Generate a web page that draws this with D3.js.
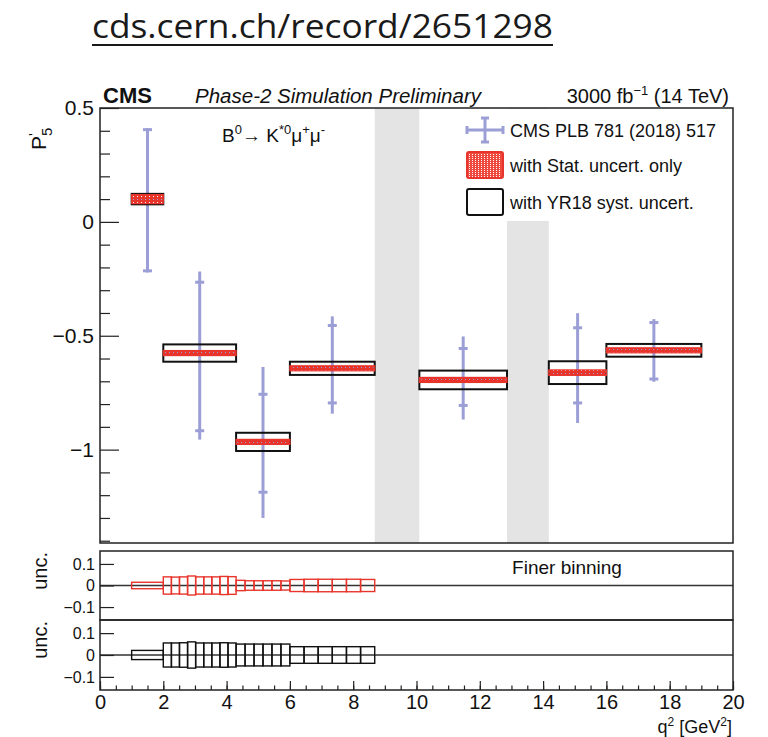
<!DOCTYPE html>
<html><head><meta charset="utf-8">
<script src="https://cdn.jsdelivr.net/npm/d3@7"></script>
<style>
body{margin:0;background:#fff}
svg{display:block}
text{font-family:"Liberation Sans",Arial,Helvetica,sans-serif;fill:#111}
</style>
</head><body>
<svg id="chart" width="768" height="737"></svg>
<script>
// q2 bins of the P5' measurement [GeV^2]
const binLo = [1, 2, 4.3, 6, 10.09, 14.18, 16];
const binHi = [2, 4.3, 6, 8.68, 12.86, 16, 19];
// Projected P5' central values with half-widths of the uncertainty boxes
const p5Central = [0.100, -0.576, -0.966, -0.643, -0.694, -0.662, -0.564];
const statOnly  = [0.020, 0.011, 0.011, 0.011, 0.011, 0.012, 0.011];
const withSyst  = [0.023, 0.038, 0.040, 0.029, 0.041, 0.050, 0.028];
// CMS PLB 781 (2018) 517: ends of the stat-only (caps) and total error bars
const cmsStatHi = [0.405, -0.265, -0.757, -0.455, -0.556, -0.465, -0.442];
const cmsStatLo = [-0.215, -0.917, -1.187, -0.795, -0.806, -0.795, -0.690];
const cmsTotHi  = [0.411, -0.218, -0.637, -0.415, -0.503, -0.401, -0.427];
const cmsTotLo  = [-0.222, -0.956, -1.300, -0.842, -0.868, -0.883, -0.702];
// Charmonium veto regions
const vetoLo = [8.68, 12.86];
const vetoHi = [10.09, 14.18];
// Finer binning: edges and uncertainties (stat only / with YR18 syst)
const fineEdges = [1, 2, 2.256, 2.511, 2.767, 3.022, 3.278, 3.533, 3.789, 4.044, 4.3,
                   4.583, 4.867, 5.15, 5.433, 5.717, 6, 6.447, 6.893, 7.34, 7.787, 8.233, 8.68];
const fineStat = [0.015, 0.040, 0.039, 0.040, 0.044, 0.040, 0.040, 0.040, 0.042, 0.041,
                  0.024, 0.022, 0.022, 0.022, 0.022, 0.021, 0.028, 0.029, 0.029, 0.029, 0.029, 0.028];
const fineSyst = [0.021, 0.055, 0.055, 0.056, 0.060, 0.055, 0.055, 0.055, 0.056, 0.055,
                  0.050, 0.050, 0.050, 0.050, 0.050, 0.050, 0.038, 0.038, 0.038, 0.038, 0.038, 0.038];
// Axis ticks
const xMajorTicks = [0, 2, 4, 6, 8, 10, 12, 14, 16, 18, 20];
const yMainMajor = [0.5, 0, -0.5, -1];
const uncTicks = [0.1, 0, -0.1];

const BLUE = "#9b9fd6", RED = "#e8352c", FRAME = "#222";
const svg = d3.select("#chart");
const fmt = d3.format("~g");

const x = d3.scaleLinear().domain([0, 20]).range([100, 733]);
const yMain = d3.scaleLinear().domain([-1.41, 0.5]).range([543, 108]);
const yU1 = d3.scaleLinear().domain([-0.16, 0.16]).range([620, 551]);
const yU2 = d3.scaleLinear().domain([-0.16, 0.16]).range([690, 620]);

// Red hatched fills for the stat-only boxes (holes let the layers below show)
const defs = svg.append("defs");
defs.append("pattern").attr("id", "statFill").attr("patternUnits", "userSpaceOnUse")
  .attr("width", 4).attr("height", 3)
  .append("path").attr("d", "M0,0h4v3h-4z M1,1h1v1h-1z")
  .attr("fill-rule", "evenodd").attr("fill", RED);
defs.append("pattern").attr("id", "statFillKey").attr("patternUnits", "userSpaceOnUse")
  .attr("width", 3).attr("height", 2)
  .append("path").attr("d", "M0,0h3v2h-3z M1,0h1v1h-1z")
  .attr("fill-rule", "evenodd").attr("fill", "#ee4a40");

// Title line above the chart
svg.append("text").attr("x", 92).attr("y", 38).attr("font-size", 33)
  .attr("textLength", 461).attr("lengthAdjust", "spacingAndGlyphs")
  .style("font-family", "'Open Sans','Noto Sans',sans-serif").style("fill", "#1a1a1a")
  .text("cds.cern.ch/record/2651298");
svg.append("line").attr("x1", 92).attr("x2", 553).attr("y1", 45).attr("y2", 45)
  .attr("stroke", "#1a1a1a").attr("stroke-width", 2);

// Header
svg.append("text").attr("x", 103).attr("y", 103).attr("font-size", 22)
  .attr("font-weight", "bold").text("CMS");
svg.append("text").attr("x", 195).attr("y", 103).attr("font-size", 20.5)
  .attr("font-style", "italic").text("Phase-2 Simulation Preliminary");
const lumi = svg.append("text").attr("x", 729).attr("y", 103).attr("font-size", 20)
  .attr("text-anchor", "end");
lumi.append("tspan").text("3000 fb");
lumi.append("tspan").attr("font-size", 13).attr("dy", -8).text("\u22121");
lumi.append("tspan").attr("dy", 8).text(" (14 TeV)");

// ---- Main panel ----
const main = svg.append("g");
main.selectAll("rect.veto").data(vetoLo).join("rect").attr("class", "veto")
  .attr("x", (d) => x(d)).attr("width", (d, i) => x(vetoHi[i]) - x(d))
  .attr("y", yMain(0.5)).attr("height", yMain(-1.41) - yMain(0.5))
  .attr("fill", "#e4e4e4");

const bins = binLo.map((lo, i) => ({
  lo, hi: binHi[i], c: p5Central[i], stat: statOnly[i], syst: withSyst[i],
  sHi: cmsStatHi[i], sLo: cmsStatLo[i], tHi: cmsTotHi[i], tLo: cmsTotLo[i]
}));

// CMS 2018 measurement error bars
const meas = main.append("g").attr("stroke", BLUE).attr("stroke-width", 3);
bins.forEach((b) => {
  const cx = x((b.lo + b.hi) / 2);
  meas.append("line").attr("x1", cx).attr("x2", cx).attr("y1", yMain(b.tHi)).attr("y2", yMain(b.tLo));
  meas.append("line").attr("x1", x(b.lo)).attr("x2", x(b.hi)).attr("y1", yMain(b.c)).attr("y2", yMain(b.c));
  [b.sHi, b.sLo].forEach((v) => {
    meas.append("line").attr("x1", cx - 4.5).attr("x2", cx + 4.5).attr("y1", yMain(v)).attr("y2", yMain(v));
  });
});

// Boxes with YR18 systematics
main.selectAll("rect.syst").data(bins).join("rect").attr("class", "syst")
  .attr("x", (d) => x(d.lo)).attr("width", (d) => x(d.hi) - x(d.lo))
  .attr("y", (d) => yMain(d.c + d.syst)).attr("height", (d) => yMain(d.c - d.syst) - yMain(d.c + d.syst))
  .attr("fill", "none").attr("stroke", "#111").attr("stroke-width", 2);

// Stat-only boxes
main.selectAll("rect.stat").data(bins).join("rect").attr("class", "stat")
  .attr("x", (d) => x(d.lo)).attr("width", (d) => x(d.hi) - x(d.lo))
  .attr("y", (d) => yMain(d.c + d.stat)).attr("height", (d) => yMain(d.c - d.stat) - yMain(d.c + d.stat))
  .attr("fill", "url(#statFill)").attr("stroke", RED).attr("stroke-width", 1.2);

// Main y axis
const yMinor = d3.range(-1.4, 0.55, 0.1).filter((v) => !yMainMajor.some((m) => Math.abs(m - v) < 1e-6));
main.append("g").attr("transform", "translate(100,0)")
  .call(d3.axisLeft(yMain).tickValues(yMinor).tickSizeInner(-10).tickSizeOuter(0).tickFormat(""))
  .call((g) => g.select(".domain").remove())
  .call((g) => g.selectAll("line").attr("stroke", FRAME).attr("stroke-width", 1.2));
main.append("g").attr("transform", "translate(100,0)")
  .call(d3.axisLeft(yMain).tickValues(yMainMajor).tickSizeInner(-19).tickSizeOuter(0).tickPadding(6).tickFormat(fmt))
  .call((g) => g.select(".domain").remove())
  .call((g) => g.selectAll("line").attr("stroke", FRAME).attr("stroke-width", 1.2))
  .call((g) => g.selectAll("text").attr("font-size", 21).attr("fill", "#111")
    .style("font-family", "'Liberation Sans',Arial,sans-serif"));

// y title P'5
const yt = svg.append("text").attr("transform", "translate(46,150) rotate(-90)").attr("font-size", 21);
yt.append("tspan").text("P");
yt.append("tspan").attr("font-size", 15).attr("dy", -7).attr("dx", 0).text("'");
yt.append("tspan").attr("font-size", 15).attr("dy", 13).attr("dx", -3).text("5");

// Decay label
const dk = svg.append("text").attr("x", 222).attr("y", 142).attr("font-size", 19);
dk.append("tspan").text("B");
dk.append("tspan").attr("font-size", 13).attr("dy", -8).text("0");
dk.append("tspan").attr("dy", 8).text("\u2192 K");
dk.append("tspan").attr("font-size", 13).attr("dy", -8).text("*0");
dk.append("tspan").attr("dy", 8).text("\u03bc");
dk.append("tspan").attr("font-size", 13).attr("dy", -8).text("+");
dk.append("tspan").attr("dy", 8).text("\u03bc");
dk.append("tspan").attr("font-size", 13).attr("dy", -8).text("-");

// Legend
const lg = svg.append("g");
lg.append("rect").attr("x", 440).attr("y", 109).attr("width", 292).attr("height", 112).attr("fill", "#fff");
const lgB = lg.append("g").attr("stroke", BLUE).attr("stroke-width", 3);
lgB.append("line").attr("x1", 467).attr("x2", 503).attr("y1", 130).attr("y2", 130);
lgB.append("line").attr("x1", 485).attr("x2", 485).attr("y1", 118).attr("y2", 142);
lgB.append("line").attr("x1", 481).attr("x2", 489).attr("y1", 118).attr("y2", 118);
lgB.append("line").attr("x1", 481).attr("x2", 489).attr("y1", 142).attr("y2", 142);
lgB.append("line").attr("x1", 467).attr("x2", 467).attr("y1", 126).attr("y2", 134);
lgB.append("line").attr("x1", 503).attr("x2", 503).attr("y1", 126).attr("y2", 134);
lg.append("rect").attr("x", 467).attr("y", 152).attr("width", 36).attr("height", 26).attr("rx", 2)
  .attr("fill", "url(#statFillKey)").attr("stroke", RED).attr("stroke-width", 2);
lg.append("rect").attr("x", 467).attr("y", 189).attr("width", 36).attr("height", 26).attr("rx", 2)
  .attr("fill", "#fff").attr("stroke", "#111").attr("stroke-width", 2);
const lgText = ["CMS PLB 781 (2018) 517", "with Stat. uncert. only", "with YR18 syst. uncert."];
const lgY = [137, 172, 209];
lg.selectAll("text").data(lgText).join("text").attr("x", 510).attr("y", (d, i) => lgY[i])
  .attr("font-size", 18).text((d) => d);

svg.append("rect").attr("x", 100).attr("y", 108).attr("width", 633).attr("height", 435)
  .attr("fill", "none").attr("stroke", FRAME).attr("stroke-width", 1.5);

// ---- Finer binning panels ----
const fine = fineStat.map((s, i) => ({ lo: fineEdges[i], hi: fineEdges[i + 1], stat: s, syst: fineSyst[i] }));

function uncPanel(y, key, color, top, bottom) {
  const g = svg.append("g");
  g.append("line").attr("x1", 100).attr("x2", 733).attr("y1", y(0)).attr("y2", y(0))
    .attr("stroke", "#333").attr("stroke-width", 1.5);
  g.selectAll("rect").data(fine).join("rect")
    .attr("x", (d) => x(d.lo)).attr("width", (d) => x(d.hi) - x(d.lo))
    .attr("y", (d) => y(d[key])).attr("height", (d) => y(-d[key]) - y(d[key]))
    .attr("fill", "none").attr("stroke", color).attr("stroke-width", 1.4);
  g.append("g").attr("transform", "translate(100,0)")
    .call(d3.axisLeft(y).tickValues(uncTicks).tickSizeInner(-14).tickSizeOuter(0).tickPadding(5).tickFormat(fmt))
    .call((a) => a.select(".domain").remove())
    .call((a) => a.selectAll("line").attr("stroke", FRAME).attr("stroke-width", 1.2))
    .call((a) => a.selectAll("text").attr("font-size", 16).attr("fill", "#111")
      .style("font-family", "'Liberation Sans',Arial,sans-serif"));
  svg.append("text").attr("transform", `translate(47,${top + 1}) rotate(-90)`)
    .attr("text-anchor", "end").attr("font-size", 20).text("unc.");
  svg.append("rect").attr("x", 100).attr("y", top).attr("width", 633).attr("height", bottom - top)
    .attr("fill", "none").attr("stroke", FRAME).attr("stroke-width", 1.5);
}
uncPanel(yU1, "stat", RED, 551, 620);
uncPanel(yU2, "syst", "#111", 620, 690);

svg.append("text").attr("x", 567).attr("y", 574).attr("text-anchor", "middle")
  .attr("font-size", 19).text("Finer binning");

// x axis (bottom of lower panel)
svg.append("g").attr("transform", "translate(0,690)")
  .call(d3.axisBottom(x).tickValues(d3.range(0, 20.01, 0.5)).tickSizeInner(-4.5).tickSizeOuter(0).tickFormat(""))
  .call((a) => a.select(".domain").remove())
  .call((a) => a.selectAll("line").attr("stroke", FRAME).attr("stroke-width", 1.2));
svg.append("g").attr("transform", "translate(0,690)")
  .call(d3.axisBottom(x).tickValues(xMajorTicks).tickSizeInner(-9).tickSizeOuter(0).tickPadding(6).tickFormat(fmt))
  .call((a) => a.select(".domain").remove())
  .call((a) => a.selectAll("line").attr("stroke", FRAME).attr("stroke-width", 1.2))
  .call((a) => a.selectAll("text").attr("font-size", 20).attr("fill", "#111").attr("dy", null).attr("y", 19)
    .style("font-family", "'Liberation Sans',Arial,sans-serif"));

const xt = svg.append("text").attr("x", 732).attr("y", 733).attr("text-anchor", "end").attr("font-size", 18);
xt.append("tspan").text("q");
xt.append("tspan").attr("font-size", 12).attr("dy", -7).text("2");
xt.append("tspan").attr("dy", 7).text(" [GeV");
xt.append("tspan").attr("font-size", 12).attr("dy", -7).text("2");
xt.append("tspan").attr("dy", 7).text("]");
</script>
</body></html>
